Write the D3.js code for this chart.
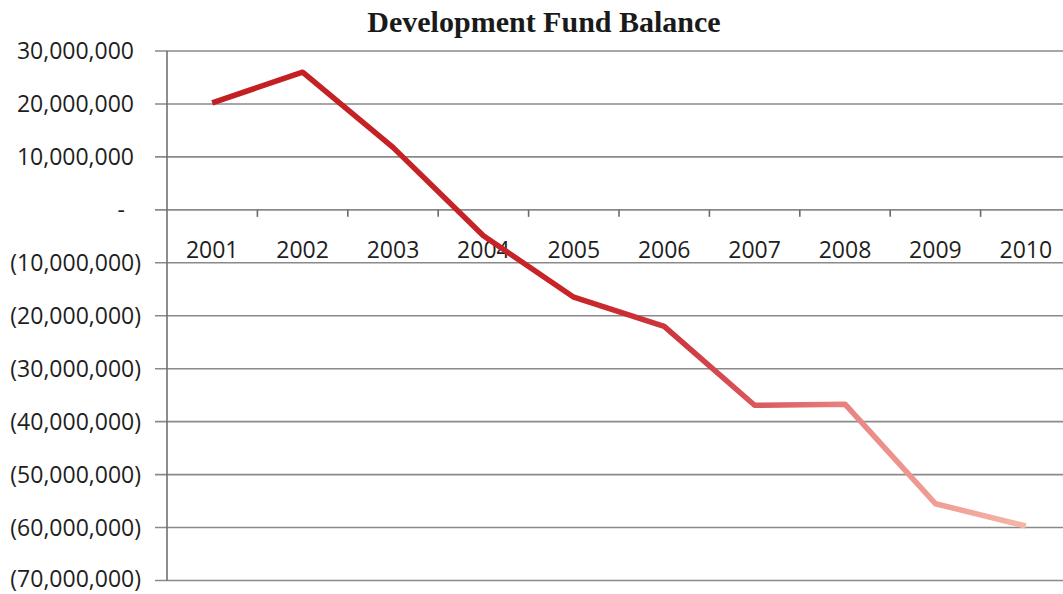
<!DOCTYPE html>
<html>
<head>
<meta charset="utf-8">
<script src="https://cdn.jsdelivr.net/npm/d3@7"></script>
<style>
  html, body { margin: 0; padding: 0; background: #fff; overflow: hidden; }
  svg { display: block; }
</style>
</head>
<body>
<svg id="chart" width="1063" height="594"></svg>
<script>
// ---- data ----
const title = "Development Fund Balance";
const years = ["2001","2002","2003","2004","2005","2006","2007","2008","2009","2010"];
const balance = [20200000, 26000000, 11800000, -4900000, -16500000, -22000000, -36900000, -36700000, -55500000, -59700000];
const yTicks = [30000000, 20000000, 10000000, 0, -10000000, -20000000, -30000000, -40000000, -50000000, -60000000, -70000000];

// ---- layout ----
const W = 1063, H = 594;
const plotLeft = 167, plotRight = 1071, plotTop = 51, plotBottom = 580.5;

const svg = d3.select("#chart");

const x = d3.scaleBand().domain(years).range([plotLeft, plotRight]).padding(0);
const y = d3.scaleLinear().domain([-70000000, 30000000]).range([plotBottom, plotTop]);

const fmt = d3.format(",");
const labelFont = "'Open Sans', 'Liberation Sans', sans-serif";
const gridColor = "#8a8a8a";
const textColor = "#1e1e1e";

// title
svg.append("text")
  .attr("x", 544).attr("y", 32)
  .attr("text-anchor", "middle")
  .attr("font-family", "'Liberation Serif', 'Times New Roman', serif")
  .attr("font-weight", "bold")
  .attr("font-size", 30)
  .attr("fill", "#1a1a1a")
  .text(title);

// horizontal gridlines (with outward ticks on the left)
svg.append("g").selectAll("line").data(yTicks).join("line")
  .attr("x1", plotLeft - 12).attr("x2", W + 10)
  .attr("y1", d => y(d)).attr("y2", d => y(d))
  .attr("stroke", gridColor).attr("stroke-width", 1.6);

// vertical axis line
svg.append("line")
  .attr("x1", plotLeft).attr("x2", plotLeft)
  .attr("y1", y(30000000)).attr("y2", y(-70000000))
  .attr("stroke", "#707070").attr("stroke-width", 1.6);

// y labels (accounting format)
const yAxis = d3.axisLeft(y).tickValues(yTicks).tickSize(0)
  .tickFormat(d => d > 0 ? fmt(d) : d < 0 ? "(" + fmt(-d) + ")" : "-");
const gy = svg.append("g").attr("transform", `translate(${plotLeft},0)`).call(yAxis);
gy.select(".domain").remove();
gy.selectAll("text")
  .attr("font-family", labelFont)
  .attr("font-size", 23)
  .attr("fill", textColor)
  .attr("dy", d => d === -70000000 ? "0.26em" : "0.34em")
  .attr("x", d => d > 0 ? -(plotLeft - 134) : d < 0 ? -(plotLeft - 141) : -(plotLeft - 125));

// category axis on the zero line: ticks at category boundaries
const boundaries = years.slice(1).map(d => x(d));
svg.append("g").selectAll("line").data(boundaries).join("line")
  .attr("x1", d => d).attr("x2", d => d)
  .attr("y1", y(0)).attr("y2", y(0) + 7)
  .attr("stroke", "#6a6a6a").attr("stroke-width", 1.6);

// category labels
svg.append("g").selectAll("text").data(years).join("text")
  .attr("x", d => x(d) + x.bandwidth() / 2)
  .attr("y", 258)
  .attr("text-anchor", "middle")
  .attr("font-family", labelFont)
  .attr("font-size", 23)
  .attr("fill", textColor)
  .text(d => d);

// gradient for the line (scanned colour fade)
const defs = svg.append("defs");
const cx = years.map(d => x(d) + x.bandwidth() / 2);
const grad = defs.append("linearGradient")
  .attr("id", "lineGrad")
  .attr("gradientUnits", "userSpaceOnUse")
  .attr("x1", cx[0]).attr("y1", 0)
  .attr("x2", cx[cx.length - 1]).attr("y2", 0);
[
  [0.00, "#c21f22"],
  [0.45, "#c82529"],
  [0.58, "#cf3a40"],
  [0.70, "#de6468"],
  [0.80, "#ea8a86"],
  [1.00, "#f6b5a8"]
].forEach(([o, c]) => grad.append("stop").attr("offset", o).attr("stop-color", c));

const line = d3.line()
  .x((d, i) => x(years[i]) + x.bandwidth() / 2)
  .y(d => y(d));

svg.append("path")
  .datum(balance)
  .attr("d", line)
  .attr("fill", "none")
  .attr("stroke", "url(#lineGrad)")
  .attr("stroke-width", 5.5)
  .attr("stroke-linejoin", "round");
</script>
</body>
</html>
